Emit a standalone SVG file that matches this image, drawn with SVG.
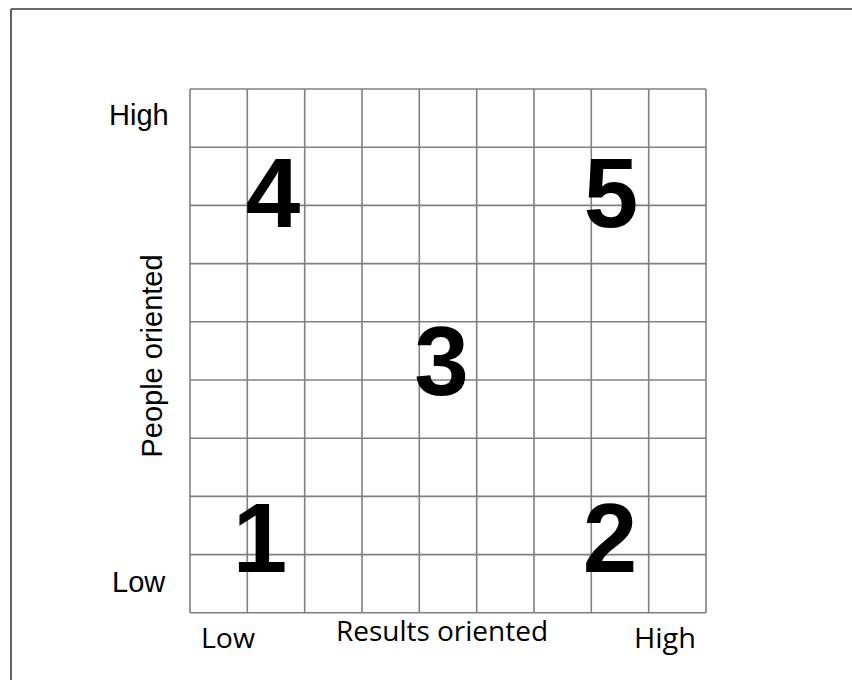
<svg xmlns="http://www.w3.org/2000/svg" width="852" height="680" viewBox="0 0 852 680">
<style>
.frame{stroke:#3a3a3a;stroke-width:1.6;fill:none}
.grid line{stroke:#808080;stroke-width:1.6}
.lab{font-family:"Liberation Sans",Arial,sans-serif;font-size:29px;fill:#000}
.lab2{font-family:"Open Sans","Liberation Sans",sans-serif;font-size:27px;fill:#000}
.num{font-family:"Liberation Sans",Arial,sans-serif;font-size:98px;font-weight:bold;fill:#000;text-anchor:middle}
</style>
<rect width="852" height="680" fill="#fff"/>
<g id="frame">
<line class="frame" x1="11" y1="9" x2="852" y2="9"/>
<line class="frame" x1="11" y1="9" x2="11" y2="680"/>
</g>
<g id="grid" class="grid">
<line x1="190" y1="89" x2="190" y2="613"/>
<line x1="247.3" y1="89" x2="247.3" y2="613"/>
<line x1="304.7" y1="89" x2="304.7" y2="613"/>
<line x1="362" y1="89" x2="362" y2="613"/>
<line x1="419.3" y1="89" x2="419.3" y2="613"/>
<line x1="476.7" y1="89" x2="476.7" y2="613"/>
<line x1="534" y1="89" x2="534" y2="613"/>
<line x1="591.3" y1="89" x2="591.3" y2="613"/>
<line x1="648.7" y1="89" x2="648.7" y2="613"/>
<line x1="706" y1="89" x2="706" y2="613"/>
<line x1="190" y1="89" x2="706" y2="89"/>
<line x1="190" y1="147.2" x2="706" y2="147.2"/>
<line x1="190" y1="205.4" x2="706" y2="205.4"/>
<line x1="190" y1="263.6" x2="706" y2="263.6"/>
<line x1="190" y1="321.8" x2="706" y2="321.8"/>
<line x1="190" y1="380" x2="706" y2="380"/>
<line x1="190" y1="438.2" x2="706" y2="438.2"/>
<line x1="190" y1="496.4" x2="706" y2="496.4"/>
<line x1="190" y1="554.6" x2="706" y2="554.6"/>
<line x1="190" y1="612.8" x2="706" y2="612.8"/>
</g>
<g id="axis-labels">
<text class="lab" x="109" y="125">High</text>
<text class="lab" x="112" y="592">Low</text>
<text class="lab" transform="translate(161.5,356) rotate(-90)" text-anchor="middle">People oriented</text>
<text class="lab2" x="201" y="648" textLength="54" lengthAdjust="spacingAndGlyphs">Low</text>
<text class="lab2" x="336" y="641" textLength="212" lengthAdjust="spacingAndGlyphs">Results oriented</text>
<text class="lab2" x="634" y="648" textLength="62" lengthAdjust="spacingAndGlyphs">High</text>
</g>
<g id="n4"><text class="num" x="273" y="227">4</text></g>
<g id="n5"><text class="num" x="611" y="227">5</text></g>
<g id="n3"><text class="num" x="441.5" y="395">3</text></g>
<g id="n1"><text class="num" x="260" y="572">1</text></g>
<g id="n2"><text class="num" x="610" y="572">2</text></g>
</svg>
